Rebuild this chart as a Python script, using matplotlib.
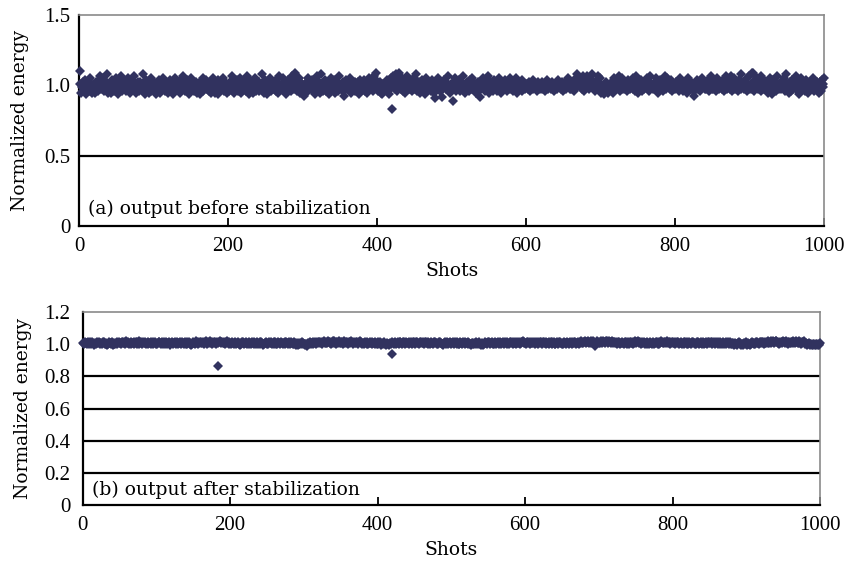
import numpy as np
import matplotlib
matplotlib.use("Agg")
import matplotlib.pyplot as plt

# ---- data -------------------------------------------------------------
# (a) energy before stabilization: one char per shot, 'i' = 1.00, step 0.013 per letter
before_codes = (
    "gjehkfilgd" "jhfkmgeihj" "egkjhflnig" "hmjfgkioeh" "jgelhkfjmg"
    "ihdkgjnfhl" "gjfihmkegj" "lhgnjfeikh" "fkjhgojdil" "hgkejmfhjg"
    "kfhdjilgeh" "jgmhfkgjei" "hlfgjdkimg" "gjhkeflhjn" "ifgjlhdgkh"
    "mhjgfikegj" "hdkjgmfihl" "gjifhkejgm" "kehjgldfij" "hgmfjkhegi"
    "jfkhgniehk" "gljfhmgejh" "kigfjnhdlg" "hjegkmfijh" "fkhjgoiegl"
    "jhdkgjmfhi" "gkjflhenjg" "ihgmkfjdhl" "kgjhfnigkp" "hjfgmkeijh"
    "ecjhgkfmgi" "jhlfgidkhn" "gkjeohfjgl" "hfgjkdimhg" "jleghkfjnh"
    "gihkfcjlgj" "khgmejfhik" "fjhgkdlgjh" "iglfjhekmg" "hjkgfnhilh"
    "jfhkgedjig" "ghjlfdkhmg" "jnkgohfljp" "hgmjfkiegn" "kihgljfhmj"
    "gjofhkiegl" "hkgjdmfjhi" "jfhlgkebjh" "gmjhfkdigl" "hkgjnfhejg"
    "jgkhmfijgl" "hfkjgnhegj" "kjhflgmikh" "gjehkfjlgi" "hmjgfkhjne"
    "jgkihfljgh" "fjhmkgeikj" "hlgjfkhgmj" "jfhgkmiegh" "ghjlfkhjgi"
    "hjgkfihjlg" "jhgifkhjgi" "gkihjfhlgj" "ihjgkhfijh" "hgljhigkfj"
    "jkhgimhjgk" "ghjlfkiohj" "kjmhgnjflh" "hnjgkmiolj" "jhfkgnjhmi"
    "egfhdjkfge" "fhjgkiemhj" "gkhjnfhjmg" "jhgkfjlhgi" "hjmgkfjnhe"
    "kghjlfijgh" "jmhgfknjhg" "hjgkmiehjl" "gkjfhnjgmh" "jhgklfihjg"
    "hkjgflmhjg" "fjhkgejmhi" "kgjhcfhjlg" "hjfgkmihjg" "jghlfkjnhg"
    "gkjhfmijgk" "hjglkfhnjg" "jhkgnifjmh" "gjhkfljgoh" "kigjhmfjng"
    "hjpgkflhjm" "gkjhnfijgl" "jhgkefmjhd" "hlgjkfnhjg" "jgkhlmfjoh"
    "gjehkfljgk" "hnjgfkdjmg" "jhkgflhjeg" "gkjhmfijhk" "hjegkfljhm"
)
before_outlier_shots = [1, 398, 420, 487, 502, 538, 905]
before_outlier_values = [1.10, 1.09, 0.83, 0.92, 0.89, 0.92, 1.085]

# (b) energy after stabilization: 'd' = 1.000, step 0.006 per letter
after_codes = (
    "edfeedfdef" "dfeedcedfe" "efdeedfefd" "decdefeedf" "cdedefdefe"
    "edfefedfge" "fedefdeefd" "efdfedgefe" "dfeefdedfe" "efdedfefed"
    "deffedefdf" "edfedefdce" "fdeefedfde" "efedfedefd" "dfefedcdef"
    "edfgefdefe" "fefdefgedf" "efgedfefef" "dfeefgeffe" "efdfegefde"
    "defedfedef" "edcedfefde" "fedefdedfe" "efdedefdef" "dfedcdefed"
    "edfefedefd" "fdedfedefe" "edefdfedef" "defedfdecd" "ecdedefded"
    "dcdbdedfed" "edfefedfef" "fefdefgefe" "efgfefdfge" "gefdfefgef"
    "efdfgefefd" "fefgfedfef" "efdefgefde" "defedfdefe" "edfeedfedf"
    "defcdedfed" "dcedcdedfe" "edfedefedf" "fedfefdefe" "efdefedfef"
    "dfefedfefe" "efdfefedfe" "defedfefed" "edfefedcde" "fedfedefed"
    "efdefedfed" "dfedefedfe" "edfedcdede" "dedfedefdc" "edcdefedef"
    "fedefdedfe" "defedfedef" "edfefdedfe" "fefdefedfe" "efdfefgefe"
    "dfefedfefe" "efedfefdef" "fedfefedfe" "efdefdfefd" "defedfefed"
    "edfedefede" "fedfefefde" "efdfegefef" "gfefgfefge" "fgefbefgfe"
    "efgfegfefg" "gefgfefgef" "fefdefefde" "efedfefdef" "dfefedfegf"
    "efgfefdefe" "fedefdedfe" "edfedefefd" "dfefgfefef" "efgefdfefe"
    "fedfefefde" "efdefdfefd" "defedfefed" "edfefdefed" "fedefedfef"
    "efdfefdefe" "dfedfedefd" "efdefdefde" "decdedcdef" "edcdcdedfe"
    "cdedcdefed" "edfefedfef" "fefdefefge" "efgefgfefg" "gfefdefefg"
    "fefgefdfef" "efgefefgfe" "gefdfefged" "edcdedcdcd" "cdcdcdcdce"
)
after_outlier_shots = [183, 420]
after_outlier_values = [0.865, 0.937]

x_ticks = [0, 200, 400, 600, 800, 1000]
yticks_a = [0, 0.5, 1.0, 1.5]
yticklabels_a = ["0", "0.5", "1.0", "1.5"]
yticks_b = [0, 0.2, 0.4, 0.6, 0.8, 1.0, 1.2]
yticklabels_b = ["0", "0.2", "0.4", "0.6", "0.8", "1.0", "1.2"]


def decode(codes, centre_char, step, shots, values):
    y = np.array([1.0 + step * (ord(c) - ord(centre_char)) for c in codes])
    for s, v in zip(shots, values):
        y[s - 1] = v
    return np.arange(1, len(y) + 1), y


xa, ya = decode(before_codes, "i", 0.013, before_outlier_shots, before_outlier_values)
xb, yb = decode(after_codes, "d", 0.006, after_outlier_shots, after_outlier_values)

# ---- figure -----------------------------------------------------------
plt.rcParams["font.family"] = ["DejaVu Serif"]
FS = 13.5                       # labels and panel tags
TICK_FONT = dict(family=["Liberation Serif", "DejaVu Serif"], size=15)
MARK = "#31325f"

fig = plt.figure(figsize=(8.46, 5.62), dpi=100)
fig.patch.set_facecolor("white")

ax_a = fig.add_axes([79 / 846, 1 - 226 / 562, 745 / 846, 211 / 562])
ax_b = fig.add_axes([82.7 / 846, 1 - 505 / 562, 737.3 / 846, 193 / 562])


def style(ax, yticks, ylabels, ymax, tag, ypad, ylabpad):
    ax.set_xlim(0, 1000)
    ax.set_ylim(0, ymax)
    ax.set_xticks(x_ticks)
    ax.set_xticklabels([str(t) for t in x_ticks], fontdict=TICK_FONT)
    ax.set_yticks(yticks)
    ax.set_yticklabels(ylabels, fontdict=TICK_FONT)
    ax.tick_params(axis="x", direction="in", length=6, width=1.3, pad=8, color="black")
    ax.tick_params(axis="y", length=0, pad=ypad)
    for yv in yticks[1:-1]:
        ax.axhline(yv, color="black", lw=1.6, zorder=1)
    for side in ("top", "right"):
        ax.spines[side].set_color("#8a8a8a")
        ax.spines[side].set_linewidth(1.2)
    for side in ("left", "bottom"):
        ax.spines[side].set_color("black")
        ax.spines[side].set_linewidth(1.6)
    ax.set_xlabel("Shots", fontsize=FS, labelpad=4)
    ax.set_ylabel("Normalized energy", fontsize=FS, labelpad=ylabpad)
    ax.text(0.012, 0.08, tag, transform=ax.transAxes, fontsize=FS,
            ha="left", va="center")


style(ax_a, yticks_a, yticklabels_a, 1.5, "(a) output before stabilization", 6, 11)
style(ax_b, yticks_b, yticklabels_b, 1.2, "(b) output after stabilization", 9, 9)

ax_a.plot(xa, ya, linestyle="none", marker="D", ms=4.8, color=MARK,
          markeredgewidth=0, zorder=3, clip_on=False)
ax_b.plot(xb, yb, linestyle="none", marker="D", ms=5.0, color=MARK,
          markeredgewidth=0, zorder=3, clip_on=False)

fig.savefig("out.png", dpi=100)
